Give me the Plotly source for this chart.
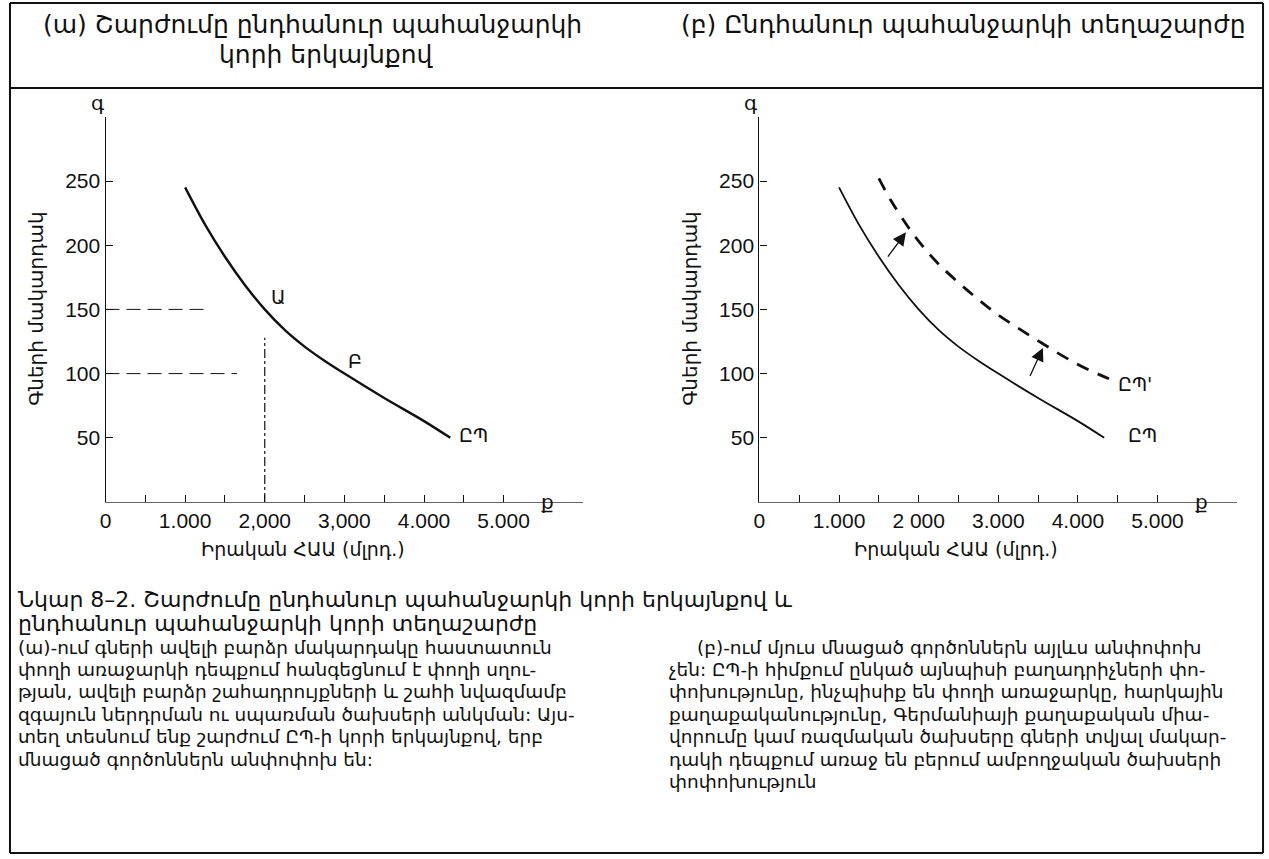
import plotly.graph_objects as go

W, H = 1269, 859

# ---------------- data ----------------
ad_x = [1000, 1250, 1500, 1750, 2000, 2250, 2500, 2750, 3000, 3500, 4000, 4330]
ad_y = [245, 216, 191, 169, 150, 134, 121, 110, 100, 81, 63, 50]

ad2_x = [1500, 1650, 1870, 2040, 2240, 2480, 2725, 2970, 3260, 3540, 3830, 4100, 4390]
ad2_y = [252, 235, 214, 200, 186, 172, 159, 147, 135, 124, 113, 104, 96]

point_a = (2000, 150)
point_b = (3000, 100)

x_ticks = [0, 500, 1000, 1500, 2000, 2500, 3000, 3500, 4000, 4500, 5000]
x_text_left = ["0", "", "1.000", "", "2,000", "", "3,000", "", "4.000", "", "5.000"]
x_text_right = ["0", "", "1.000", "", "2 000", "", "3.000", "", "4.000", "", "5.000"]
y_ticks = [50, 100, 150, 200, 250]
y_text = ["50", "100", "150", "200", "250"]

header_left = ["(ա) Շարժումը ընդհանուր պահանջարկի", "կորի երկայնքով"]
header_right = "(բ) Ընդհանուր պահանջարկի տեղաշարժը"
y_title = "Գների մակարդակ"
x_title = "Իրական ՀԱԱ (մլրդ.)"
caption = ["Նկար 8–2. Շարժումը ընդհանուր պահանջարկի կորի երկայնքով և",
           "ընդհանուր պահանջարկի կորի տեղաշարժը"]
para_left = [
    "(ա)-ում գների ավելի բարձր մակարդակը հաստատուն",
    "փողի առաջարկի դեպքում հանգեցնում է փողի սղու-",
    "թյան, ավելի բարձր շահադրույքների և շահի նվազմամբ",
    "զգայուն ներդրման ու սպառման ծախսերի անկման: Այս-",
    "տեղ տեսնում ենք շարժում ԸՊ-ի կորի երկայնքով, երբ",
    "մնացած գործոններն անփոփոխ են:",
]
para_right = [
    "(բ)-ում մյուս մնացած գործոններն այլևս անփոփոխ",
    "չեն: ԸՊ-ի հիմքում ընկած այնպիսի բաղադրիչների փո-",
    "փոխությունը, ինչպիսիք են փողի առաջարկը, հարկային",
    "քաղաքականությունը, Գերմանիայի քաղաքական միա-",
    "վորումը կամ ռազմական ծախսերը գների տվյալ մակար-",
    "դակի դեպքում առաջ են բերում ամբողջական ծախսերի",
    "փոփոխություն",
]

# ---------------- styling ----------------
ARM = "DejaVu Sans, sans-serif"
NUM = "Liberation Sans Narrow, Liberation Sans, Arial, sans-serif"
BLACK = "#111111"

def px(xp):
    return xp / W

def py(yp):
    return 1 - yp / H

L0, R0 = 100, 757
PX_PER_1000 = 80
XMAX = 6000
Y0, PX_PER_UNIT = 502, 1.284
YMAX = 300

fig = go.Figure()

# left panel
fig.add_trace(go.Scatter(x=ad_x, y=ad_y, mode="lines", line=dict(color=BLACK, width=2.4, shape="spline"),
                         xaxis="x", yaxis="y", hoverinfo="skip", showlegend=False))
fig.add_trace(go.Scatter(x=[0, 1280], y=[point_a[1], point_a[1]], mode="lines",
                         line=dict(color=BLACK, width=1, dash="14px,7px"), xaxis="x", yaxis="y",
                         hoverinfo="skip", showlegend=False))
fig.add_trace(go.Scatter(x=[0, 1650], y=[point_b[1], point_b[1]], mode="lines",
                         line=dict(color=BLACK, width=1, dash="14px,7px"), xaxis="x", yaxis="y",
                         hoverinfo="skip", showlegend=False))
fig.add_trace(go.Scatter(x=[point_a[0], point_a[0]], y=[0, 128], mode="lines",
                         line=dict(color=BLACK, width=1.2, dash="dashdot"), xaxis="x", yaxis="y",
                         hoverinfo="skip", showlegend=False))

# right panel
fig.add_trace(go.Scatter(x=ad_x, y=ad_y, mode="lines", line=dict(color=BLACK, width=1.8, shape="spline"),
                         xaxis="x2", yaxis="y2", hoverinfo="skip", showlegend=False))
fig.add_trace(go.Scatter(x=ad2_x, y=ad2_y, mode="lines",
                         line=dict(color=BLACK, width=2.8, dash="13px,10px", shape="spline"),
                         xaxis="x2", yaxis="y2", hoverinfo="skip", showlegend=False))

ldom = [px(L0), px(L0 + XMAX / 1000 * PX_PER_1000)]
rdom = [px(R0), px(R0 + XMAX / 1000 * PX_PER_1000)]
ydom = [py(Y0), py(Y0 - YMAX * PX_PER_UNIT)]

xcommon = dict(range=[0, XMAX], showgrid=False, zeroline=False, showline=True, linecolor="#666", linewidth=1,
               ticks="inside", ticklen=7, tickcolor=BLACK, tickvals=x_ticks,
               tickfont=dict(family=NUM, size=21, color=BLACK), fixedrange=True)
ycommon = dict(range=[0, YMAX], showgrid=False, zeroline=False, showline=True, linecolor=BLACK, linewidth=1.2,
               ticks="inside", ticklen=7, tickcolor=BLACK, tickvals=y_ticks, ticktext=y_text,
               tickfont=dict(family=NUM, size=21, color=BLACK), fixedrange=True)

fig.update_layout(
    width=W, height=H, margin=dict(l=0, r=0, t=0, b=0),
    paper_bgcolor="white", plot_bgcolor="white", showlegend=False,
    xaxis=dict(domain=ldom, anchor="y", ticktext=x_text_left, **xcommon),
    yaxis=dict(domain=ydom, anchor="x", **ycommon),
    xaxis2=dict(domain=rdom, anchor="y2", ticktext=x_text_right, **xcommon),
    yaxis2=dict(domain=ydom, anchor="x2", **ycommon),
)

ann = []
def text(x, y, s, size, family=ARM, xanchor="center", yanchor="middle", angle=0, xref="paper", yref="paper"):
    ann.append(dict(x=x, y=y, xref=xref, yref=yref, text=s, showarrow=False, xanchor=xanchor, yanchor=yanchor,
                    textangle=angle, font=dict(family=family, size=size, color=BLACK)))

# headers
text(px(308), py(25), header_left[0], 25)
text(px(322), py(55), header_left[1], 25)
text(px(962), py(25), header_right, 25)

# axis labels for both panels
for xa, ya, x0 in (("x", "y", L0), ("x2", "y2", R0)):
    text(0, 300, "գ", 20, xanchor="right", yanchor="bottom", xref=xa, yref=ya)
    text(5450, 0, "ք", 20, xanchor="left", yanchor="middle", xref=xa, yref=ya)
    text(px(x0 + 198), py(549), x_title, 19)
    text(px(x0 - 70), py(308), y_title, 20, angle=-90)

# curve labels
text(2050, 160, "Ա", 19, xanchor="left", xref="x", yref="y")
text(3020, 110, "Բ", 19, xanchor="left", xref="x", yref="y")
text(4420, 52, "ԸՊ", 19, xanchor="left", xref="x", yref="y")
text(4600, 52, "ԸՊ", 19, xanchor="left", xref="x2", yref="y2")
text(4480, 92, "ԸՊ'", 19, xanchor="left", xref="x2", yref="y2")

# arrows (shift of AD)
for (tx, ty), (hx, hy) in (((1600, 190), (1840, 210)), ((3390, 97), (3560, 120))):
    ann.append(dict(x=hx, y=hy, ax=tx, ay=ty, xref="x2", yref="y2", axref="x2", ayref="y2",
                    showarrow=True, arrowhead=2, arrowsize=2, arrowwidth=1.3, arrowcolor=BLACK, text=""))

# caption & paragraphs
text(px(10), py(599), caption[0], 22, xanchor="left")
text(px(10), py(623), caption[1], 22, xanchor="left")
for i, line in enumerate(para_left):
    text(px(10), py(647 + 22.4 * i), line, 18.5, xanchor="left")
for i, line in enumerate(para_right):
    text(px(692 if i == 0 else 664), py(647 + 22.4 * i), line, 18.5, xanchor="left")

fig.update_layout(annotations=ann)

# frame lines
shapes = []
def hline(y, x0=4, x1=1263, w=2):
    shapes.append(dict(type="line", xref="paper", yref="paper", x0=px(x0), x1=px(x1), y0=py(y), y1=py(y),
                       line=dict(color=BLACK, width=w)))
def vline(x, y0=3, y1=853, w=2):
    shapes.append(dict(type="line", xref="paper", yref="paper", x0=px(x), x1=px(x), y0=py(y0), y1=py(y1),
                       line=dict(color=BLACK, width=w)))
hline(3)
hline(88)
hline(853)
vline(4)
vline(1263)
fig.update_layout(shapes=shapes)

fig.write_html("out.html", config={"displayModeBar": False},
               post_script="document.body.style.margin='0';document.body.style.overflow='hidden';")
